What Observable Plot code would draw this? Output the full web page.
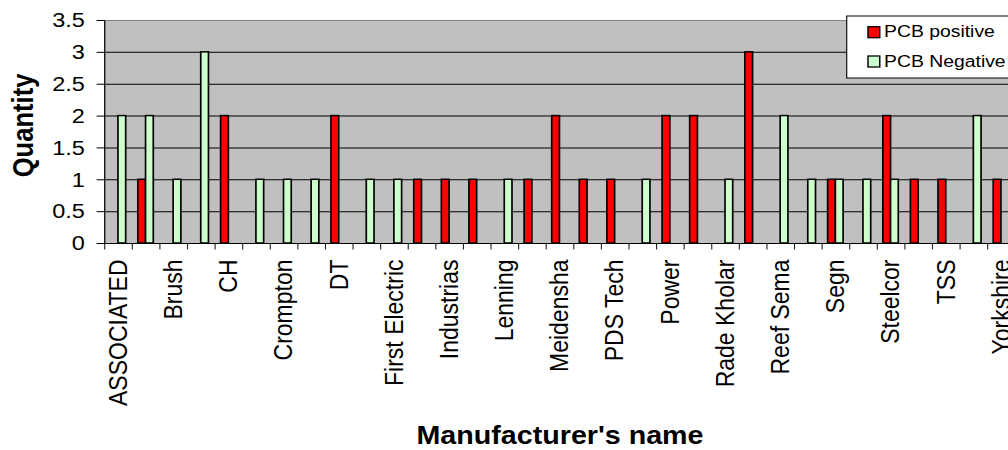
<!DOCTYPE html>
<html>
<head>
<meta charset="utf-8">
<script src="https://cdn.jsdelivr.net/npm/d3@7"></script>
<script src="https://cdn.jsdelivr.net/npm/@observablehq/plot@0.6"></script>
<style>
  html, body { margin: 0; padding: 0; background: #fff; overflow: hidden; }
  #chart { width: 1008px; height: 450px; overflow: hidden; }
</style>
</head>
<body>
<div id="chart"></div>
<script>
// ---- data ----
const manufacturers = [
  "ASSOCIATED", "(unlabelled 1)", "Brush", "(unlabelled 2)", "CH", "(unlabelled 3)",
  "Crompton", "(unlabelled 4)", "DT", "(unlabelled 5)", "First Electric", "(unlabelled 6)",
  "Industrias", "(unlabelled 7)", "Lenning", "(unlabelled 8)", "Meidensha", "(unlabelled 9)",
  "PDS Tech", "(unlabelled 10)", "Power", "(unlabelled 11)", "Rade Kholar", "(unlabelled 12)",
  "Reef Sema", "(unlabelled 13)", "Segn", "(unlabelled 14)", "Steelcor", "(unlabelled 15)",
  "TSS", "(unlabelled 16)", "Yorkshire"
];
const xTickLabels = [
  "ASSOCIATED", "Brush", "CH", "Crompton", "DT", "First Electric", "Industrias", "Lenning",
  "Meidensha", "PDS Tech", "Power", "Rade Kholar", "Reef Sema", "Segn", "Steelcor", "TSS", "Yorkshire"
];
const pcbPositive = [0,1,0,0,2,0,0,0,2,0,0,1,1,1,0,1,2,1,1,0,2,2,0,3,0,0,1,0,2,1,1,0,1];
const pcbNegative = [2,2,1,3,0,1,1,1,0,1,1,0,0,0,1,0,0,0,0,1,0,0,1,0,2,1,1,1,1,0,0,2,0];
const seriesNames = ["PCB positive", "PCB Negative"];
const seriesColors = ["#ff0000", "#ccffcc"];
const yTicks = [0, 0.5, 1, 1.5, 2, 2.5, 3, 3.5];
const yTickLabels = ["0", "0.5", "1", "1.5", "2", "2.5", "3", "3.5"];
const xTitle = "Manufacturer's name";
const yTitle = "Quantity";

// ---- layout ----
const SX = 1.12;              // horizontal stretch seen in the reference
const W = 925, H = 450;
const mL = 93, mR = 19, mT = 20, mB = 207;
const step = (W - mL - mR) / manufacturers.length;
const barW = 6.9;
const FONT = "'Liberation Sans', Arial, Helvetica, sans-serif";

const rows = [];
manufacturers.forEach((m, i) => {
  rows.push({name: m, series: seriesNames[0], value: pcbPositive[i]});
  rows.push({name: m, series: seriesNames[1], value: pcbNegative[i]});
});
const posRows = rows.filter(d => d.series === seriesNames[0] && d.value > 0);
const negRows = rows.filter(d => d.series === seriesNames[1] && d.value > 0);

const legendMark = (index, scales, values, dims) => {
  const g = d3.create("svg:g").attr("font-family", FONT).attr("text-anchor", "start");
  const frameRight = dims.width - dims.marginRight;
  const x0 = frameRight - 150, y0 = 16;
  g.append("rect").attr("x", x0).attr("y", y0).attr("width", 200).attr("height", 62)
    .attr("fill", "#fff").attr("stroke", "#000").attr("stroke-width", 1);
  seriesNames.forEach((s, i) => {
    g.append("rect").attr("x", x0 + 19).attr("y", y0 + 10.7 + i * 29.3)
      .attr("width", 10.5).attr("height", 11)
      .attr("fill", scales.color(s)).attr("stroke", "#000").attr("stroke-width", 1.3);
    g.append("text").attr("x", x0 + 33.3).attr("y", y0 + 21.3 + i * 29.4)
      .attr("text-anchor", "start")
      .attr("font-size", 17.3).attr("fill", "#000").text(s);
  });
  return g.node();
};

const svg = Plot.plot({
  width: W, height: H,
  marginLeft: mL, marginRight: mR, marginTop: mT, marginBottom: mB,
  style: {fontFamily: FONT, color: "#000", background: "#fff", overflow: "visible"},
  x: {domain: manufacturers, paddingInner: 0, paddingOuter: 0, round: false},
  y: {domain: [0, 3.5]},
  color: {domain: seriesNames, range: seriesColors},
  marks: [
    Plot.frame({fill: "#c0c0c0", stroke: "#808080"}),
    Plot.gridY(yTicks.filter(t => t > 0 && t < 3.5), {stroke: "#000", strokeOpacity: 1, strokeWidth: 1}),
    Plot.barY(posRows, {x: "name", y: "value", fill: "series", stroke: "#000", strokeWidth: 1.5,
      insetLeft: step / 2 - barW, insetRight: step / 2}),
    Plot.barY(negRows, {x: "name", y: "value", fill: "series", stroke: "#000", strokeWidth: 1.5,
      insetLeft: step / 2, insetRight: step / 2 - barW}),
    Plot.ruleY([0], {stroke: "#000", strokeWidth: 1}),
    Plot.ruleX([manufacturers[0]], {dx: -step / 2, stroke: "#000", strokeWidth: 1}),
    Plot.axisX(manufacturers, {fill: "none", stroke: "#222", tickSize: 6.5, dx: -step / 2, label: null}),
    Plot.axisX(xTickLabels, {tickSize: 0, tickPadding: 16, tickRotate: -90, textAnchor: "end",
      fontSize: 23, fill: "#000", label: null}),
    Plot.axisY(yTicks, {tickSize: 6.7, tickPadding: 11, fontSize: 21, fill: "#000", stroke: "#000",
      tickFormat: d => yTickLabels[yTicks.indexOf(d)], label: null}),
    Plot.text([yTitle], {text: d => d, frameAnchor: "left", textAnchor: "middle", rotate: -90,
      dx: -72.5, dy: -6.5, fontSize: 25.6, fontWeight: "bold", fill: "#000"}),
    Plot.text([xTitle], {text: d => d, frameAnchor: "bottom", lineAnchor: "top", dy: 182,
      fontSize: 25.6, fontWeight: "bold", fill: "#000"}),
    legendMark
  ]
});

svg.setAttribute("preserveAspectRatio", "none");
svg.setAttribute("width", W * SX);
svg.setAttribute("height", H);
svg.style.width = (W * SX) + "px";
svg.style.height = H + "px";
svg.style.maxWidth = "none";
svg.style.display = "block";
document.getElementById("chart").appendChild(svg);
</script>
</body>
</html>
